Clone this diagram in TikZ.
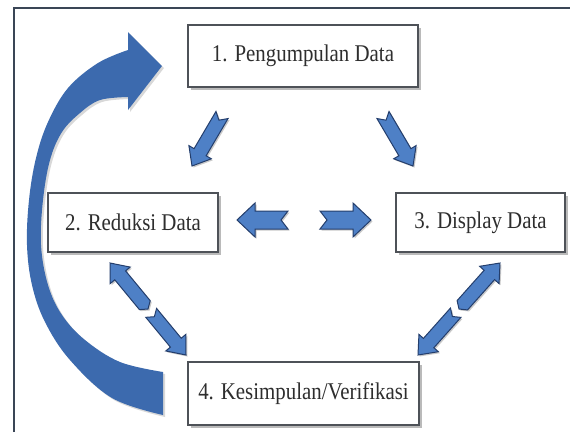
\documentclass[tikz,border=0pt]{standalone}
\usepackage{graphicx}
\usepackage{fontspec}
\setmainfont{Liberation Serif}
\usetikzlibrary{calc,shadows}

\definecolor{boxline}{RGB}{78,82,88}
\definecolor{arrowfill}{RGB}{78,128,198}
\definecolor{arrowedge}{RGB}{36,62,108}
\definecolor{bigblue}{RGB}{60,106,174}
\definecolor{framecol}{RGB}{58,70,86}

% notched block arrow: from, to, shaft half-width, head half-width, head length, tail notch
\newcommand\blockarr[6]{%
  \path ($(#2)!#5!(#1)$) coordinate (ba-h) ($(#1)!#6!(#2)$) coordinate (ba-n);
  \filldraw[arrowshape]
    ($(#1)!#3!90:(#2)$) -- ($(ba-h)!#3!90:(#2)$) -- ($(ba-h)!#4!90:(#2)$) -- (#2)
    -- ($(ba-h)!#4!-90:(#2)$) -- ($(ba-h)!#3!-90:(#2)$) -- ($(#1)!#3!-90:(#2)$)
    -- (ba-n) -- cycle;
}
% narrow serif label
\newcommand\stagelabel[1]{\scalebox{0.87}[1]{#1}}

\begin{document}
\begin{tikzpicture}[x=1pt,y=-1pt,
  stage/.style={draw=boxline, line width=1.8pt, fill=white, inner sep=0pt,
    minimum width=#1, font=\fontsize{24}{28}\selectfont, text=black!82,
    drop shadow={shadow xshift=2.5pt, shadow yshift=-2.5pt, opacity=0.45, fill=black!60}},
  arrowshape/.style={fill=arrowfill, draw=arrowedge, line width=1pt, line join=miter,
    drop shadow={shadow xshift=1.5pt, shadow yshift=-1.5pt, opacity=0.35, fill=black!60}},
  bigarrow/.style={fill=bigblue,
    drop shadow={shadow xshift=2pt, shadow yshift=-2pt, opacity=0.25, fill=black!60}}]
\useasboundingbox (0,0) rectangle (570,432);
\fill[white] (0,0) rectangle (570,432);

% frame
\draw[framecol, line width=2pt] (14,432) -- (14,8) -- (570,8);

% feedback arrow from conclusion back to data collection
\path[bigarrow] (163,415)
  -- plot[smooth, tension=0.6] coordinates {(163,415) (112,398) (70,360) (45,322) (32,285) (27,245) (29,200) (36,158) (48,122) (68,88) (98,63) (128,50)}
  -- (128,32) -- (162,66) -- (128,110)
  -- plot[smooth, tension=0.6] coordinates {(128,97) (100,100) (80,113) (62,132) (50,160) (43,200) (41,245) (48,285) (62,315) (85,340) (120,362) (163,372)}
  -- cycle;

% stages
\node[stage=230pt, minimum height=62pt] (n1) at (303,56) {\stagelabel{1. Pengumpulan Data}};
\node[stage=170pt, minimum height=59pt] (n2) at (133,222.5) {\stagelabel{2. Reduksi Data}};
\node[stage=169pt, minimum height=59pt] (n3) at (480.5,222.5) {\stagelabel{3. Display Data}};
\node[stage=231pt, minimum height=63pt] (n4) at (303.5,393.5) {\stagelabel{4. Kesimpulan/Verifikasi}};

% arrow ends
\coordinate (a1s) at (222,115);
\coordinate (a1e) at (192,166);
\coordinate (a2s) at (383,115);
\coordinate (a2e) at (413,166);
\coordinate (a3s) at (288,220);
\coordinate (a3e) at (237,220);
\coordinate (a4s) at (320,220);
\coordinate (a4e) at (371,220);
\coordinate (d2a) at (110,263);
\coordinate (d2b) at (186,355);
\coordinate (d3a) at (500,263);
\coordinate (d3b) at (418,355);
\coordinate (d2m) at ($(d2a)!0.5!(d2b)$);
\coordinate (d3m) at ($(d3a)!0.5!(d3b)$);
\coordinate (d2u) at ($(d2m)!5pt!(d2a)$);
\coordinate (d2l) at ($(d2m)!5pt!(d2b)$);
\coordinate (d3u) at ($(d3m)!5pt!(d3a)$);
\coordinate (d3l) at ($(d3m)!5pt!(d3b)$);

% flow arrows
\blockarr{a1s}{a1e}{7pt}{13pt}{16pt}{6pt}
\blockarr{a2s}{a2e}{7pt}{13pt}{16pt}{6pt}
\blockarr{a3s}{a3e}{9pt}{17pt}{18pt}{7pt}
\blockarr{a4s}{a4e}{9pt}{17pt}{18pt}{7pt}
\blockarr{d2u}{d2a}{7pt}{13pt}{16pt}{-5pt}
\blockarr{d2l}{d2b}{7pt}{13pt}{16pt}{5pt}
\blockarr{d3u}{d3a}{7pt}{13pt}{16pt}{-5pt}
\blockarr{d3l}{d3b}{7pt}{13pt}{16pt}{5pt}
\end{tikzpicture}
\end{document}
